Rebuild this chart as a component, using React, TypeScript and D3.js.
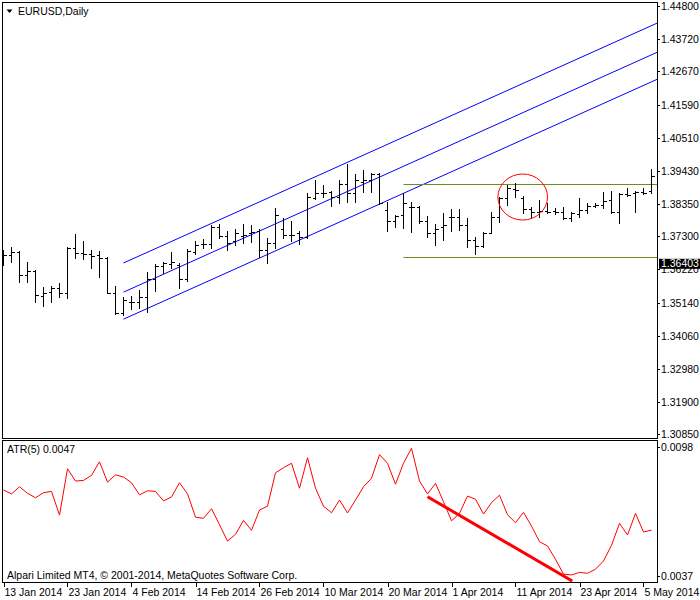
import * as d3 from "d3";

// EURUSD daily bars, 13 Jan 2014 .. 6 May 2014 (one per weekday)
const opens = [
  1.3669, 1.3669, 1.3680, 1.3604, 1.3617, 1.3535, 1.3549, 1.3561, 1.3544, 1.3692,
  1.3675, 1.3671, 1.3669, 1.3660, 1.3546, 1.3481, 1.3517, 1.3515, 1.3533, 1.3590,
  1.3634, 1.3640, 1.3636, 1.3590, 1.3679, 1.3704, 1.3704, 1.3761, 1.3731, 1.3716,
  1.3731, 1.3741, 1.3747, 1.3685, 1.3707, 1.3755, 1.3734, 1.3740, 1.3727, 1.3856,
  1.3872, 1.3875, 1.3859, 1.3900, 1.3872, 1.3908, 1.3913, 1.3933, 1.3816, 1.3781,
  1.3799, 1.3826, 1.3824, 1.3781, 1.3741, 1.3759, 1.3792, 1.3792, 1.3767, 1.3718,
  1.3698, 1.3742, 1.3794, 1.3854, 1.3883, 1.3854, 1.3818, 1.3810, 1.3813, 1.3813,
  1.3810, 1.3789, 1.3802, 1.3816, 1.3829, 1.3832, 1.3848, 1.3810, 1.3868, 1.3870,
  1.3873, 1.3876,
];
const highs = [
  1.3685, 1.3696, 1.3682, 1.3645, 1.3619, 1.3564, 1.3568, 1.3577, 1.3694, 1.3736,
  1.3716, 1.3685, 1.3682, 1.3662, 1.3569, 1.3533, 1.3535, 1.3555, 1.3615, 1.3639,
  1.3647, 1.3680, 1.3643, 1.3688, 1.3715, 1.3720, 1.3767, 1.3769, 1.3747, 1.3754,
  1.3770, 1.3767, 1.3753, 1.3723, 1.3823, 1.3789, 1.3781, 1.3748, 1.3872, 1.3913,
  1.3897, 1.3878, 1.3913, 1.3964, 1.3933, 1.3946, 1.3937, 1.3935, 1.3843, 1.3799,
  1.3872, 1.3843, 1.3828, 1.3796, 1.3770, 1.3807, 1.3818, 1.3818, 1.3789, 1.3728,
  1.3745, 1.3810, 1.3859, 1.3897, 1.3904, 1.3861, 1.3826, 1.3848, 1.3839, 1.3821,
  1.3826, 1.3810, 1.3854, 1.3839, 1.3839, 1.3875, 1.3878, 1.3870, 1.3886, 1.3878,
  1.3886, 1.3948,
];
const lows = [
  1.3636, 1.3645, 1.3580, 1.3580, 1.3515, 1.3504, 1.3515, 1.3533, 1.3528, 1.3660,
  1.3656, 1.3626, 1.3598, 1.3544, 1.3477, 1.3474, 1.3493, 1.3495, 1.3484, 1.3552,
  1.3609, 1.3626, 1.3561, 1.3584, 1.3671, 1.3691, 1.3691, 1.3725, 1.3685, 1.3702,
  1.3707, 1.3710, 1.3662, 1.3642, 1.3691, 1.3723, 1.3716, 1.3705, 1.3723, 1.3850,
  1.3858, 1.3830, 1.3837, 1.3843, 1.3843, 1.3875, 1.3875, 1.3835, 1.3747, 1.3759,
  1.3758, 1.3745, 1.3772, 1.3727, 1.3702, 1.3718, 1.3748, 1.3750, 1.3694, 1.3672,
  1.3696, 1.3740, 1.3777, 1.3832, 1.3859, 1.3805, 1.3792, 1.3792, 1.3807, 1.3803,
  1.3785, 1.3781, 1.3794, 1.3805, 1.3824, 1.3821, 1.3807, 1.3772, 1.3861, 1.3810,
  1.3868, 1.3872,
];
const closes = [
  1.3668, 1.3679, 1.3604, 1.3617, 1.3539, 1.3544, 1.3561, 1.3544, 1.3692, 1.3675,
  1.3671, 1.3667, 1.3660, 1.3546, 1.3481, 1.3522, 1.3515, 1.3533, 1.3590, 1.3634,
  1.3643, 1.3646, 1.3590, 1.3683, 1.3702, 1.3705, 1.3761, 1.3731, 1.3707, 1.3740,
  1.3733, 1.3743, 1.3685, 1.3707, 1.3799, 1.3734, 1.3735, 1.3727, 1.3857, 1.3872,
  1.3871, 1.3858, 1.3899, 1.3872, 1.3913, 1.3913, 1.3933, 1.3837, 1.3781, 1.3796,
  1.3839, 1.3824, 1.3781, 1.3740, 1.3753, 1.3767, 1.3793, 1.3767, 1.3718, 1.3698,
  1.3742, 1.3794, 1.3854, 1.3886, 1.3882, 1.3818, 1.3810, 1.3813, 1.3810, 1.3810,
  1.3789, 1.3805, 1.3816, 1.3829, 1.3832, 1.3846, 1.3810, 1.3868, 1.3866, 1.3873,
  1.3871, 1.3926,
];

// ATR(5)
const atr = [
  0.00777, 0.00758, 0.00792, 0.00761, 0.0074, 0.00764, 0.0077, 0.00658, 0.00877, 0.00819,
  0.00822, 0.00846, 0.0091, 0.00814, 0.00848, 0.00838, 0.00811, 0.00754, 0.00773, 0.0077,
  0.00725, 0.00744, 0.00811, 0.00759, 0.00648, 0.00643, 0.00688, 0.00613, 0.00535, 0.00567,
  0.00633, 0.00586, 0.00682, 0.007, 0.00858, 0.00882, 0.00903, 0.00785, 0.00929, 0.00785,
  0.007, 0.00669, 0.00729, 0.00668, 0.00729, 0.00792, 0.00832, 0.00944, 0.00903, 0.00804,
  0.00903, 0.00974, 0.00819, 0.00758, 0.00808, 0.00721, 0.00631, 0.00666, 0.00748, 0.00733,
  0.00663, 0.00717, 0.00752, 0.0066, 0.00622, 0.00671, 0.00606, 0.00532, 0.00512, 0.00449,
  0.00379, 0.00375, 0.00387, 0.00383, 0.00402, 0.00441, 0.00515, 0.00619, 0.00564, 0.00666,
  0.00578, 0.00587,
];

const priceTicks = [
  "1.44800", "1.43720", "1.42670", "1.41590", "1.40510", "1.39430", "1.38350",
  "1.37300", "1.36220", "1.35140", "1.34060", "1.32980", "1.31900", "1.30850",
];
const atrTicks = ["0.0098", "0.0037"];

// objects drawn on the chart
const channelBars = [15, 81];
const channelUpper = [1.3643, 1.4416];
const channelMid = [1.3548, 1.4321];
const channelLower = [1.3460, 1.4233];
const hLevels = [1.38987, 1.36624];
const hLevelStart = 50;
const priceLabel = 1.36403;
const circle = { bar: 64.9, price: 1.38578, rBars: 3.1, rPrice: 0.0075 };
const atrTrendBars = [53, 71.1];
const atrTrendVals = [0.00745, 0.00346];

const start = new Date(2014, 0, 13);
const end = new Date(2014, 4, 7);
const dates = d3.timeDay.range(start, end).filter((d) => d.getDay() !== 0 && d.getDay() !== 6);
const fmt = d3.timeFormat("%-d %b %Y");

const W = 700;
const H = 600;
const L = 2;
const R = 657;
const mainT = 2;
const mainB = 438;
const atrT = 440;
const atrB = 582;
const FONT = "Tahoma, 'Liberation Sans', Arial, sans-serif";

const snap = (v: number) => Math.round(v) + 0.5;

export default function App() {
  const x = d3.scaleLinear().domain([0, 81]).range([3.5, 651.5]);
  const y = d3.scaleLinear().domain([1.448, 1.3085]).range([6, 434.3]);
  const ya = d3.scaleLinear().domain([0.0098, 0.0037]).range([447, 576]);

  const barsPath = opens
    .map((o, i) => {
      const xi = x(i);
      return (
        `M${xi},${snap(y(highs[i])) - 0.5}V${snap(y(lows[i])) + 0.5}` +
        `M${xi - 3},${snap(y(o))}H${xi}` +
        `M${xi},${snap(y(closes[i]))}H${xi + 3}`
      );
    })
    .join("");

  // channel rays extend to the right edge
  const rightBar = x.invert(R);
  const ray = (vals: number[]) => {
    const slope = (vals[1] - vals[0]) / (channelBars[1] - channelBars[0]);
    const pts: [number, number][] = [
      [channelBars[0], vals[0]],
      [rightBar, vals[0] + slope * (rightBar - channelBars[0])],
    ];
    return d3.line<[number, number]>().x((d) => x(d[0])).y((d) => y(d[1]))(pts) || "";
  };

  const atrLine = d3
    .line<number>()
    .x((_, i) => x(i))
    .y((d) => ya(d))(atr) || "";

  const trend = d3
    .line<number>()
    .x((_, i) => x(atrTrendBars[i]))
    .y((d) => ya(d))(atrTrendVals) || "";

  const dateTicks = dates.map((d, i) => ({ d, i })).filter((t) => t.i % 8 === 0);

  const cx = x(circle.bar);
  const cy = y(circle.price);
  const rx = x(circle.bar + circle.rBars) - cx;
  const ry = y(circle.price - circle.rPrice) - cy;

  return (
    <svg
      width={W}
      height={H}
      style={{ position: "absolute", left: 0, top: 0, background: "#fff" }}
      fontFamily={FONT}
      fontSize={10.5}
    >
      <defs>
        <clipPath id="mainClip">
          <rect x={L} y={mainT} width={R - L} height={mainB - mainT} />
        </clipPath>
        <clipPath id="atrClip">
          <rect x={L} y={atrT} width={R - L} height={atrB - atrT} />
        </clipPath>
      </defs>
      <rect width={W} height={H} fill="#fff" />

      {/* main window */}
      <g clipPath="url(#mainClip)">
        <g stroke="#0000ff" fill="none" strokeWidth={1}>
          <path d={ray(channelUpper)} />
          <path d={ray(channelMid)} />
          <path d={ray(channelLower)} />
        </g>
        {hLevels.map((v) => (
          <line
            key={v}
            x1={x(hLevelStart)}
            x2={R}
            y1={snap(y(v))}
            y2={snap(y(v))}
            stroke="#6b8e23"
            strokeWidth={1}
          />
        ))}
        <path d={barsPath} stroke="#000" strokeWidth={1} fill="none" shapeRendering="crispEdges" />
        <ellipse cx={cx} cy={cy} rx={rx} ry={ry} fill="none" stroke="#ff0000" strokeWidth={1} />
      </g>

      {/* ATR window */}
      <g clipPath="url(#atrClip)">
        <path d={atrLine} fill="none" stroke="#ff0000" strokeWidth={1} />
        <path d={trend} fill="none" stroke="#ff0000" strokeWidth={3} />
      </g>

      {/* frames */}
      <g fill="none" stroke="#000" strokeWidth={1} shapeRendering="crispEdges">
        <rect x={L + 0.5} y={mainT + 0.5} width={R - L} height={mainB - mainT} />
        <rect x={L + 0.5} y={atrT + 0.5} width={R - L} height={atrB - atrT} />
      </g>

      {/* price axis */}
      {priceTicks.map((t) => {
        const py = snap(y(parseFloat(t)));
        return (
          <g key={t}>
            <line x1={R} x2={R + 3} y1={py} y2={py} stroke="#000" shapeRendering="crispEdges" />
            <text x={R + 4} y={py} dy="0.35em" fill="#000">
              {t}
            </text>
          </g>
        );
      })}
      <g>
        <rect x={R + 2} y={y(priceLabel) - 5} width={W - R - 2} height={10} fill="#000" />
        <text x={R + 4} y={y(priceLabel)} dy="0.35em" fill="#fff">
          {priceLabel.toFixed(5)}
        </text>
      </g>

      {/* ATR axis */}
      {atrTicks.map((t) => {
        const py = snap(ya(parseFloat(t)));
        return (
          <g key={t}>
            <line x1={R} x2={R + 3} y1={py} y2={py} stroke="#000" shapeRendering="crispEdges" />
            <text x={R + 4} y={py} dy="0.35em" fill="#000">
              {t}
            </text>
          </g>
        );
      })}

      {/* time axis */}
      {dateTicks.map((t) => (
        <g key={t.i}>
          <line
            x1={snap(x(t.i)) - 0.5}
            x2={snap(x(t.i)) - 0.5}
            y1={atrB}
            y2={atrB + 5}
            stroke="#000"
            shapeRendering="crispEdges"
          />
          <text x={x(t.i) + 1} y={596} fill="#000">
            {fmt(t.d)}
          </text>
        </g>
      ))}

      {/* labels */}
      <path d="M6.5,9.5H12.5L9.5,13Z" fill="#000" />
      <text x={18} y={11} dy="0.35em" fill="#000">
        EURUSD,Daily
      </text>
      <text x={7} y={449} dy="0.35em" fill="#000">
        ATR(5) 0.0047
      </text>
      <text x={7} y={575} dy="0.35em" fill="#000">
        Alpari Limited MT4, © 2001-2014, MetaQuotes Software Corp.
      </text>
    </svg>
  );
}
